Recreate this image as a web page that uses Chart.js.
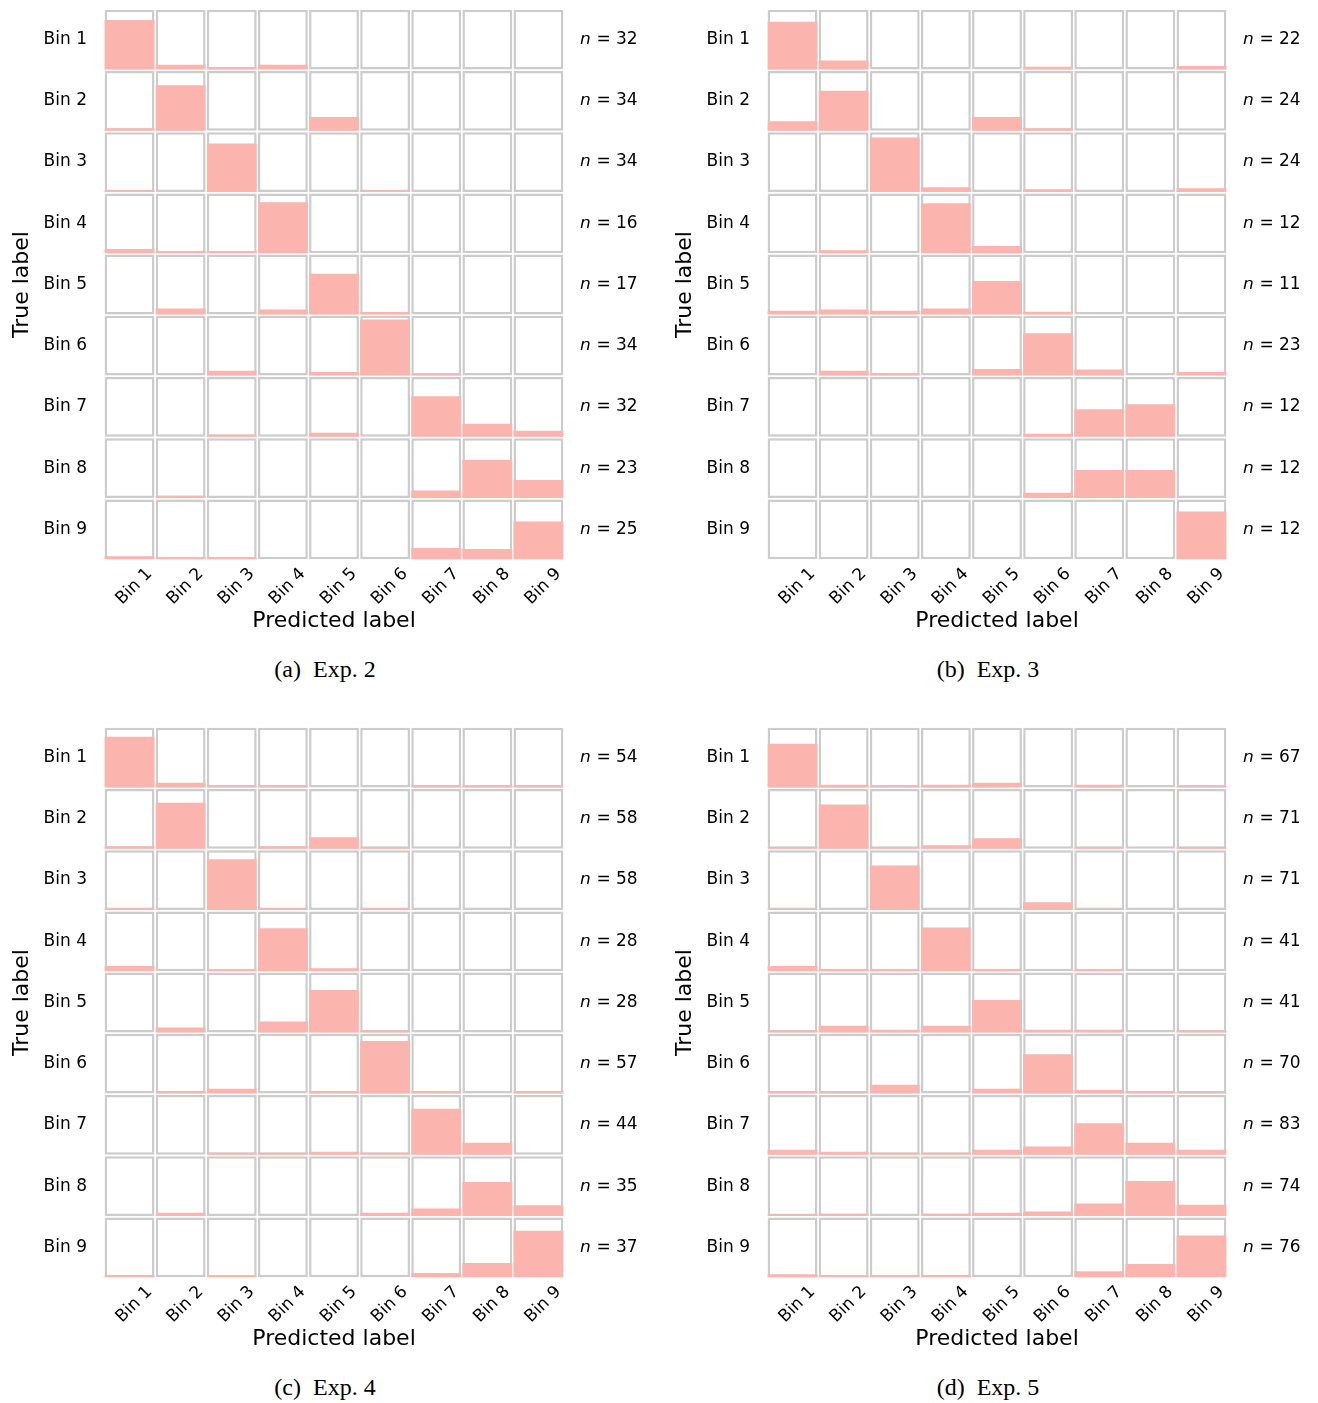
<!DOCTYPE html>
<html>
<head>
<meta charset="utf-8">
<script src="https://cdn.jsdelivr.net/npm/chart.js@4.4.1/dist/chart.umd.min.js"></script>
<style>
body { margin: 0; background: #fff; width: 1318px; height: 1403px; position: relative; overflow: hidden; }
canvas { position: absolute; }
.cap { position: absolute; width: 400px; text-align: center; font-family: 'Liberation Serif', serif; font-size: 24px; color: #000; }
</style>
</head>
<body>
<canvas id="c0" width="655" height="640" style="left:0px;top:0px"></canvas>
<canvas id="c1" width="655" height="640" style="left:663px;top:0px"></canvas>
<canvas id="c2" width="655" height="640" style="left:0px;top:718px"></canvas>
<canvas id="c3" width="655" height="640" style="left:663px;top:718px"></canvas>
<div class="cap" style="left:125px;top:656px">(a)&nbsp;&nbsp;Exp. 2</div>
<div class="cap" style="left:788px;top:656px">(b)&nbsp;&nbsp;Exp. 3</div>
<div class="cap" style="left:125px;top:1374px">(c)&nbsp;&nbsp;Exp. 4</div>
<div class="cap" style="left:788px;top:1374px">(d)&nbsp;&nbsp;Exp. 5</div>
<script>
var bins = ["Bin 1", "Bin 2", "Bin 3", "Bin 4", "Bin 5", "Bin 6", "Bin 7", "Bin 8", "Bin 9"];

// rows = true label, columns = predicted label, value = bar height as part of the cell
var nExp2 = [32, 34, 34, 16, 17, 34, 32, 23, 25];
var exp2 = [
    [0.83, 0.08, 0.03, 0.08, 0, 0, 0, 0, 0],
    [0.04, 0.76, 0, 0, 0.23, 0, 0, 0, 0],
    [0.03, 0, 0.81, 0, 0, 0.03, 0, 0, 0],
    [0.07, 0.035, 0.035, 0.85, 0, 0, 0, 0, 0],
    [0, 0.10, 0, 0.08, 0.68, 0.04, 0, 0, 0],
    [0, 0, 0.08, 0, 0.06, 0.94, 0.03, 0, 0],
    [0, 0, 0.035, 0, 0.07, 0, 0.68, 0.22, 0.10],
    [0, 0.04, 0, 0, 0, 0, 0.125, 0.64, 0.30],
    [0.05, 0.03, 0.03, 0, 0, 0, 0.19, 0.17, 0.63]
];

var nExp3 = [22, 24, 24, 12, 11, 23, 12, 12, 12];
var exp3 = [
    [0.80, 0.15, 0, 0, 0, 0.045, 0, 0, 0.06],
    [0.16, 0.67, 0, 0, 0.23, 0.04, 0, 0, 0],
    [0, 0, 0.91, 0.08, 0, 0.045, 0, 0, 0.06],
    [0, 0.05, 0, 0.835, 0.12, 0, 0, 0, 0],
    [0.06, 0.08, 0.06, 0.10, 0.56, 0.045, 0, 0, 0],
    [0, 0.08, 0.045, 0, 0.11, 0.71, 0.10, 0, 0.06],
    [0, 0, 0, 0, 0, 0.05, 0.46, 0.545, 0],
    [0, 0, 0, 0, 0, 0.09, 0.47, 0.47, 0],
    [0, 0, 0, 0, 0, 0, 0, 0, 0.80]
];

var nExp4 = [54, 58, 58, 28, 28, 57, 44, 35, 37];
var exp4 = [
    [0.85, 0.08, 0.02, 0.035, 0, 0, 0.035, 0.035, 0.035],
    [0.04, 0.77, 0, 0.04, 0.19, 0.025, 0, 0, 0],
    [0.03, 0, 0.85, 0.03, 0, 0.03, 0, 0, 0],
    [0.085, 0, 0.02, 0.72, 0.05, 0, 0, 0, 0],
    [0, 0.08, 0, 0.18, 0.71, 0.03, 0, 0, 0],
    [0, 0.045, 0.08, 0, 0.045, 0.88, 0.045, 0, 0.045],
    [0, 0, 0.035, 0.035, 0.05, 0.035, 0.77, 0.20, 0],
    [0, 0.057, 0, 0, 0, 0.057, 0.125, 0.57, 0.18],
    [0.035, 0, 0.02, 0, 0, 0, 0.07, 0.24, 0.78]
];

var nExp5 = [67, 71, 71, 41, 41, 70, 83, 74, 76];
var exp5 = [
    [0.73, 0.045, 0.02, 0.045, 0.08, 0, 0.045, 0, 0.02],
    [0.025, 0.74, 0.025, 0.057, 0.175, 0, 0.025, 0, 0.025],
    [0.02, 0, 0.745, 0, 0, 0.13, 0.02, 0, 0],
    [0.085, 0.035, 0.02, 0.73, 0.035, 0, 0.02, 0, 0],
    [0.03, 0.11, 0.045, 0.11, 0.54, 0.045, 0.045, 0, 0.03],
    [0.03, 0.02, 0.15, 0, 0.08, 0.66, 0.06, 0.03, 0.02],
    [0.085, 0.05, 0.035, 0.035, 0.085, 0.14, 0.53, 0.20, 0.085],
    [0.025, 0.04, 0, 0.04, 0.057, 0.075, 0.21, 0.585, 0.19],
    [0.05, 0.03, 0.03, 0.035, 0, 0, 0.10, 0.22, 0.70]
];

var pink = "#fbb4ae";
var cellBorder = "#cccccc";
var gap = 0.012; // half the white gap between two rows, in row units
var tickFont = { family: "DejaVu Sans", size: 17 };
var titleFont = { family: "DejaVu Sans", size: 22 };

function drawPanel(id, vals, counts) {
    var datasets = [];
    for (var r = 0; r < 9; r++) {
        var base = 8 - r;
        var cells = [];
        var bars = [];
        for (var c = 0; c < 9; c++) {
            cells.push([base + gap, base + 1 - gap]);
            if (vals[r][c] > 0) {
                bars.push([base + gap, base + gap + vals[r][c] * (1 - 2 * gap)]);
            } else {
                bars.push(null);
            }
        }
        datasets.push({
            data: cells, backgroundColor: "#ffffff", borderColor: cellBorder, borderWidth: 2.5,
            borderSkipped: false, order: 2, grouped: false, barPercentage: 0.975, categoryPercentage: 1, yAxisID: "y"
        });
        datasets.push({
            data: bars, backgroundColor: pink, borderWidth: 0,
            order: 1, grouped: false, barPercentage: 0.975, categoryPercentage: 1, yAxisID: "y"
        });
    }

    var nLabels = counts.map(function (n) { return "\uD835\uDE2F = " + n; });

    new Chart(document.getElementById(id), {
        type: "bar",
        data: { labels: bins, datasets: datasets },
        options: {
            responsive: false,
            animation: false,
            devicePixelRatio: 1,
            layout: { padding: { top: 9, left: 0, right: 0, bottom: 0 } },
            plugins: { legend: { display: false }, tooltip: { enabled: false } },
            scales: {
                x: {
                    type: "category",
                    offset: true,
                    grid: { display: false, drawTicks: false },
                    border: { display: false },
                    ticks: { color: "#000", font: tickFont, minRotation: 45, maxRotation: 45, autoSkip: false, padding: 4, labelOffset: 20 },
                    title: { display: true, text: "Predicted label", color: "#000", font: titleFont, padding: { top: 0, bottom: 6 } },
                    afterFit: function (s) { s.height = 80; s.paddingLeft = 0; s.paddingRight = 0; }
                },
                y: { type: "linear", display: false, min: 0, max: 9 },
                yl: {
                    type: "category",
                    position: "left",
                    labels: bins,
                    offset: true,
                    grid: { display: false, drawTicks: false },
                    border: { display: false },
                    ticks: { color: "#000", font: tickFont, padding: 17, autoSkip: false },
                    title: { display: true, text: "True label", color: "#000", font: titleFont, padding: { top: 9, bottom: 0 } },
                    afterFit: function (s) { s.width = 104; s.paddingTop = 0; s.paddingBottom = 0; }
                },
                yr: {
                    type: "category",
                    position: "right",
                    labels: nLabels,
                    offset: true,
                    grid: { display: false, drawTicks: false },
                    border: { display: false },
                    ticks: { color: "#000", font: tickFont, padding: 16, autoSkip: false },
                    afterFit: function (s) { s.width = 91; s.paddingTop = 0; s.paddingBottom = 0; }
                }
            }
        }
    });
}

drawPanel("c0", exp2, nExp2);
drawPanel("c1", exp3, nExp3);
drawPanel("c2", exp4, nExp4);
drawPanel("c3", exp5, nExp5);
</script>
</body>
</html>
